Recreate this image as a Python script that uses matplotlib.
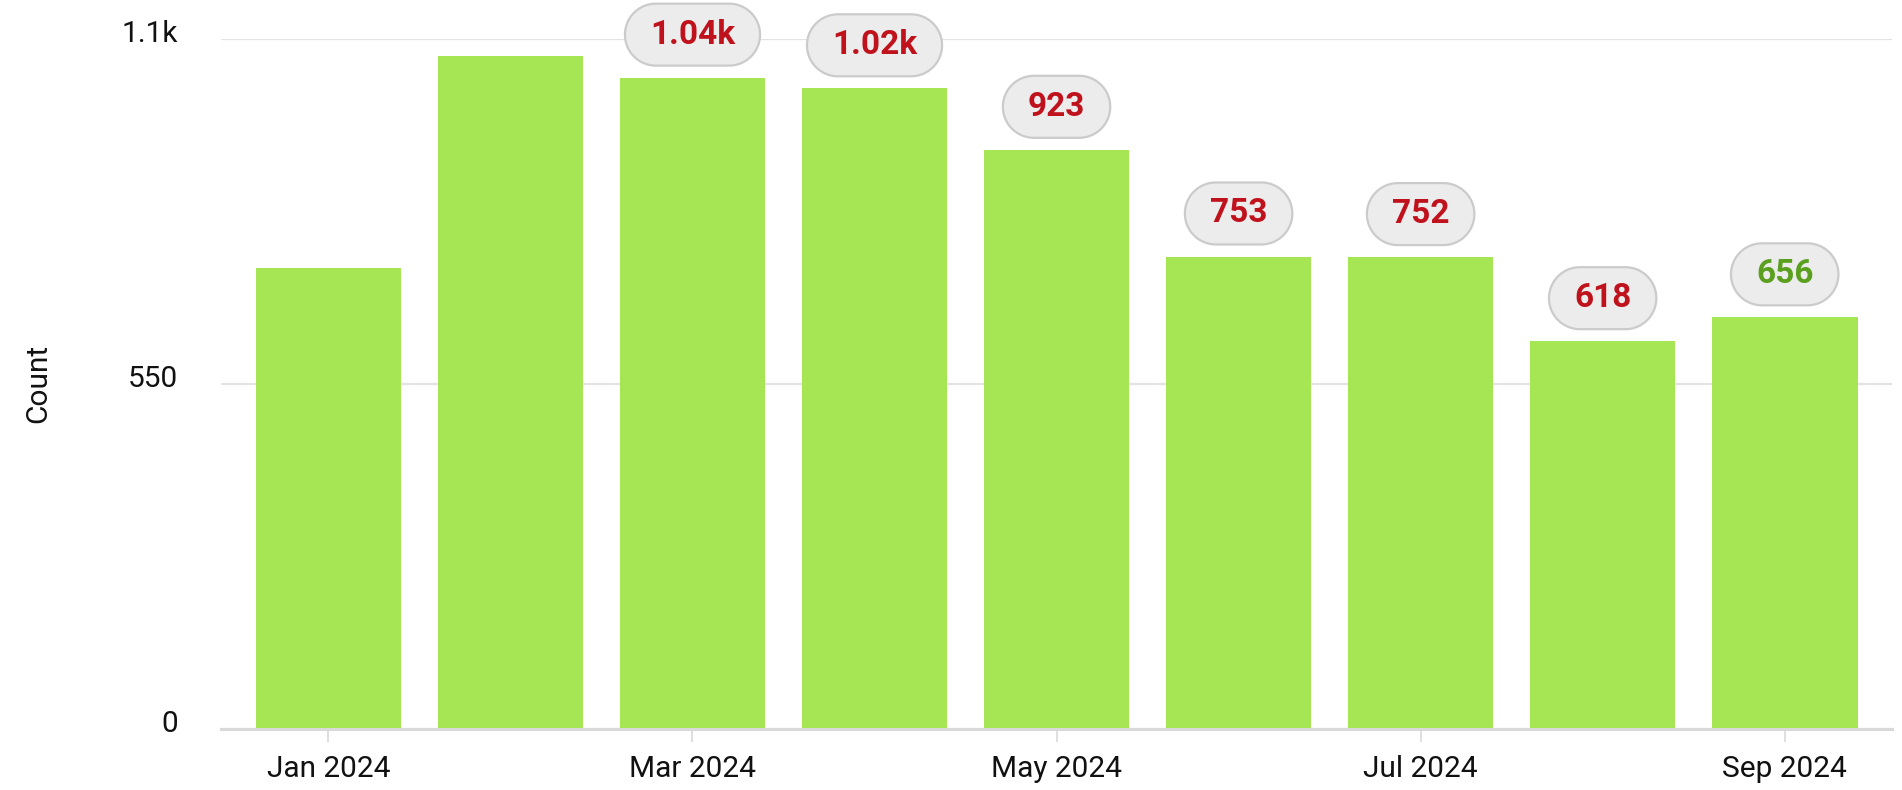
import matplotlib
matplotlib.use('Agg')
import numpy as np
import matplotlib.pyplot as plt
from matplotlib.path import Path
from matplotlib.transforms import ScaledTranslation
from matplotlib.ticker import FuncFormatter

# monthly counts
months = ['Jan 2024', 'Feb 2024', 'Mar 2024', 'Apr 2024', 'May 2024',
          'Jun 2024', 'Jul 2024', 'Aug 2024', 'Sep 2024']
counts = [734, 1073, 1038, 1021, 923, 753, 752, 618, 656]
# which bars carry a value bubble
labeled = [False, False, True, True, True, True, True, True, True]
tick_months = ['Jan 2024', 'Mar 2024', 'May 2024', 'Jul 2024', 'Sep 2024']
y_ticks = [0, 550, 1100]

BAR_COLOR = '#a6e553'
UP_COLOR = '#5a9f1d'
DOWN_COLOR = '#c0121c'

plt.rcParams['font.family'] = ['Roboto', 'DejaVu Sans']


def pill(x0, y0, width, height, mutation_size):
    # capsule shaped box, more padding left/right than top/bottom
    padx = 0.75 * mutation_size
    pady = 0.45 * mutation_size
    w = width + 2 * padx
    h = height + 2 * pady
    x0, y0 = x0 - padx, y0 - pady
    r = h / 2
    t = np.linspace(-np.pi / 2, np.pi / 2, 40)
    right = np.column_stack([x0 + w - r + r * np.cos(t), y0 + r + r * np.sin(t)])
    left = np.column_stack([x0 + r - r * np.cos(t), y0 + r - r * np.sin(t)])
    verts = np.vstack([right, left, right[:1]])
    return Path(verts, closed=True)


def fmt_count(v, pos=None):
    if v >= 1000:
        return f'{v / 1000:.3g}k'
    return f'{v:g}'


fig = plt.figure(figsize=(19.02, 7.90), dpi=100)
ax = fig.add_axes([0.1162, 0.0772, 0.8786, 0.8737])

x = np.arange(len(months))
ax.bar(x, counts, width=0.8, color=BAR_COLOR, zorder=2)

for i, (v, show) in enumerate(zip(counts, labeled)):
    if not show:
        continue
    color = UP_COLOR if v > counts[i - 1] else DOWN_COLOR
    ax.annotate(fmt_count(v), xy=(i, v), xytext=(0, 31), textcoords='offset points',
                ha='center', va='center', fontsize=24, fontweight='bold', color=color,
                annotation_clip=False, zorder=4,
                bbox=dict(boxstyle=pill, fc='#ececec', ec='#cbcbcb', lw=1.6))

ax.set_xlim(-0.59, 8.59)
ax.set_ylim(0, 1100)

ax.set_xticks([months.index(m) for m in tick_months])
ax.set_xticklabels(tick_months)
ax.set_yticks(y_ticks)
ax.yaxis.set_major_formatter(FuncFormatter(fmt_count))

ax.tick_params(axis='x', length=9, width=1.2, color='#d9d9d9', pad=10,
               labelsize=21.5, labelcolor='#111111')
ax.tick_params(axis='y', length=0, pad=31, labelsize=21.5, labelcolor='#111111')

# y tick labels sit a bit above their gridlines
for lbl in ax.get_yticklabels():
    lbl.set_transform(lbl.get_transform() + ScaledTranslation(0, 8 / 100, fig.dpi_scale_trans))

ax.grid(axis='y', color='#e3e3e3', linewidth=1.6, zorder=0)
ax.set_axisbelow(True)

for side in ['top', 'right', 'left']:
    ax.spines[side].set_visible(False)
ax.spines['bottom'].set_color('#d9d9d9')
ax.spines['bottom'].set_linewidth(2.2)

ax.set_ylabel('Count', fontsize=21.5, color='#111111')
ax.yaxis.set_label_coords(-0.101, 0.5)

fig.savefig('out.png', dpi=100)
